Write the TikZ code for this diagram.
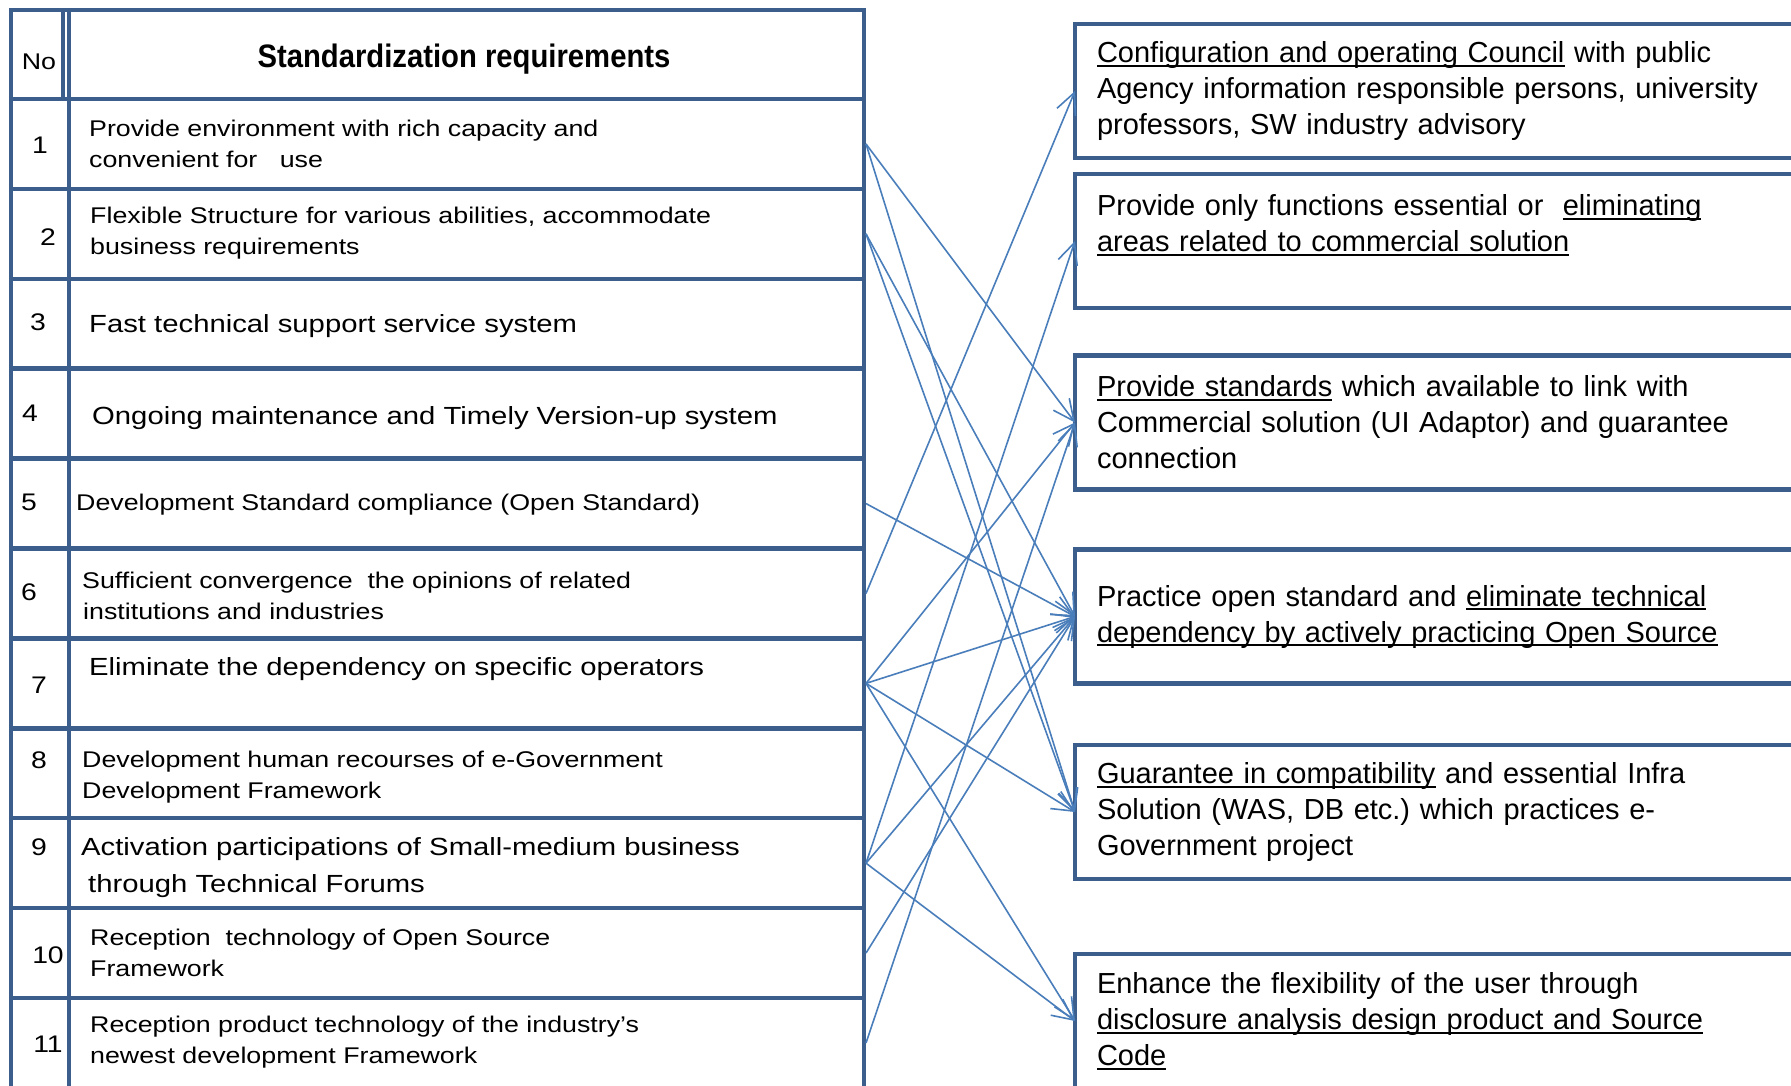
\documentclass[tikz,border=0pt]{standalone}
\usepackage{fontspec}
\setmainfont{Liberation Sans}
\newfontfamily\tabfont[FakeStretch=1.18]{Liberation Sans}
\newfontfamily\headfont[FakeStretch=0.9]{Liberation Sans}
\usetikzlibrary{arrows.meta}
\frenchspacing

\definecolor{framecol}{HTML}{3B5E8C}
\definecolor{linkcol}{HTML}{4A7EBB}

% underline a piece of text with a rule of fixed depth
\newcommand{\ulword}[1]{\leavevmode\setbox0\hbox{#1}\rlap{\rule[-4.3pt]{\wd0}{2pt}}\box0\relax}

\begin{document}
\begin{tikzpicture}[x=1pt, y=-1pt,
    frame/.style={draw=framecol, line width=4.5pt},
    link/.style={draw=linkcol, line width=1.6pt, -{Straight Barb[length=21pt,width=20pt]}},
    numtext/.style={anchor=base, inner sep=0pt, font=\tabfont\fontsize{24}{28}\selectfont},
    smalltext/.style={inner sep=0pt, align=left, font=\tabfont\fontsize{22.7}{31}\selectfont},
    largetext/.style={inner sep=0pt, align=left, font=\tabfont\fontsize{24.8}{37}\selectfont},
    actbox/.style={frame, anchor=west, outer sep=0pt, minimum width=760pt, minimum height=134pt,
        inner xsep=22pt, inner ysep=2pt, text width=716pt, align=left,
        font=\fontsize{29}{36}\selectfont}]
    \useasboundingbox (0,0) rectangle (1791,1085);
    \clip (0,0) rectangle (1791,1085);
    \fill[white] (0,0) rectangle (1791,1085);

    % Table of requirements
    \draw[frame] (11,10) rectangle (864,1110);
    \draw[framecol, line width=3.3pt] (63,10) -- (63,99); % double line in header
    \draw[frame] (69,10) -- (69,1110);
    \foreach \k in {0,...,10}
        \draw[frame] (11,{99+89.9*\k}) -- (864,{99+89.9*\k});

    % Header
    \node[numtext, font=\tabfont\fontsize{22.7}{28}\selectfont] (nohead) at (39,69) {No};
    \node[anchor=base, inner sep=0pt, font=\headfont\bfseries\fontsize{32.5}{36}\selectfont]
        (reqhead) at (464,67) {Standardization requirements};

    % Row numbers
    \node[numtext] (no1) at (40,153) {1};
    \node[numtext] (no2) at (48,245) {2};
    \node[numtext] (no3) at (38,330) {3};
    \node[numtext] (no4) at (30,421) {4};
    \node[numtext] (no5) at (29,510) {5};
    \node[numtext] (no6) at (29,600) {6};
    \node[numtext] (no7) at (39,693) {7};
    \node[numtext] (no8) at (39,768) {8};
    \node[numtext] (no9) at (39,855) {9};
    \node[numtext] (no10) at (48,963) {10};
    \node[numtext] (no11) at (48,1052) {11};

    % Requirements
    \node[smalltext, anchor=west] (req1) at (89,143.6)
        {Provide environment with rich capacity and\\convenient for~~~use};
    \node[smalltext, anchor=west] (req2) at (90,233.1)
        {Flexible Structure for various abilities, accommodate\\business requirements};
    \node[largetext, anchor=base west] (req3) at (89,332) {Fast technical support service system};
    \node[largetext, anchor=base west] (req4) at (92,424) {Ongoing maintenance and Timely Version-up system};
    \node[smalltext, anchor=base west] (req5) at (76,510) {Development Standard compliance (Open Standard)};
    \node[smalltext, anchor=west] (req6) at (82,596.1)
        {Sufficient convergence~ the opinions of related\\\hspace{1pt}institutions and industries};
    \node[largetext, anchor=base west] (req7) at (89,675) {Eliminate the dependency on specific operators};
    \node[smalltext, anchor=west] (req8) at (82,777.4)
        {Development human recourses of e-Government\\Development Framework};
    \node[largetext, anchor=west] (req9) at (81,867.1)
        {Activation participations of Small-medium business\\\hspace{7pt}through Technical Forums};
    \node[smalltext, anchor=west] (req10) at (90,953.1)
        {Reception~ technology of Open Source\\Framework};
    \node[smalltext, anchor=west] (req11) at (90,1042.1)
        {Reception product technology of the industry’s\\newest development Framework};

    % Start points on the right side of the table
    \foreach \k in {1,...,11}
        \coordinate (s\k) at (866,{99+89.9*(\k-0.5)});

    % Actions
    \node[actbox] (act1) at (1075,91)
        {\ulword{Configuration and operating Council} with public\\
         Agency information responsible persons, university\\
         professors, SW industry advisory};
    \node[actbox] (act2) at (1075,241)
        {Provide only functions essential or~ \ulword{eliminating}\\
         \ulword{areas related to commercial solution}\\ \mbox{}};
    \node[actbox] (act3) at (1075,422.5)
        {\ulword{Provide standards} which available to link with\\
         Commercial solution (UI Adaptor) and guarantee\\
         connection};
    \node[actbox] (act4) at (1075,616.5)
        {Practice open standard and \ulword{eliminate technical}\\
         \ulword{dependency by actively practicing Open Source}};
    \node[actbox] (act5) at (1075,812)
        {\ulword{Guarantee in compatibility} and essential Infra\\
         Solution (WAS, DB etc.) which practices e-\\
         Government project};
    \node[actbox] (act6) at (1075,1021)
        {Enhance the flexibility of the user through\\
         \ulword{disclosure analysis design product and Source}\\
         \ulword{Code}};

    % Links
    \draw[link] (s1) -- (act3.west);
    \draw[link] (s1) -- (act5.west);
    \draw[link] (s2) -- (act4.west);
    \draw[link] (s2) -- (act5.west);
    \draw[link] (s5) -- (act4.west);
    \draw[link] (s6) -- (act1.west);
    \draw[link] (s7) -- (act3.west);
    \draw[link] (s7) -- (act4.west);
    \draw[link] (s7) -- (act5.west);
    \draw[link] (s7) -- (act6.west);
    \draw[link] (s9) -- (act2.west);
    \draw[link] (s9) -- (act4.west);
    \draw[link] (s9) -- (act6.west);
    \draw[link] (s10) -- (act4.west);
    \draw[link] (s11) -- (act3.west);
\end{tikzpicture}
\end{document}
